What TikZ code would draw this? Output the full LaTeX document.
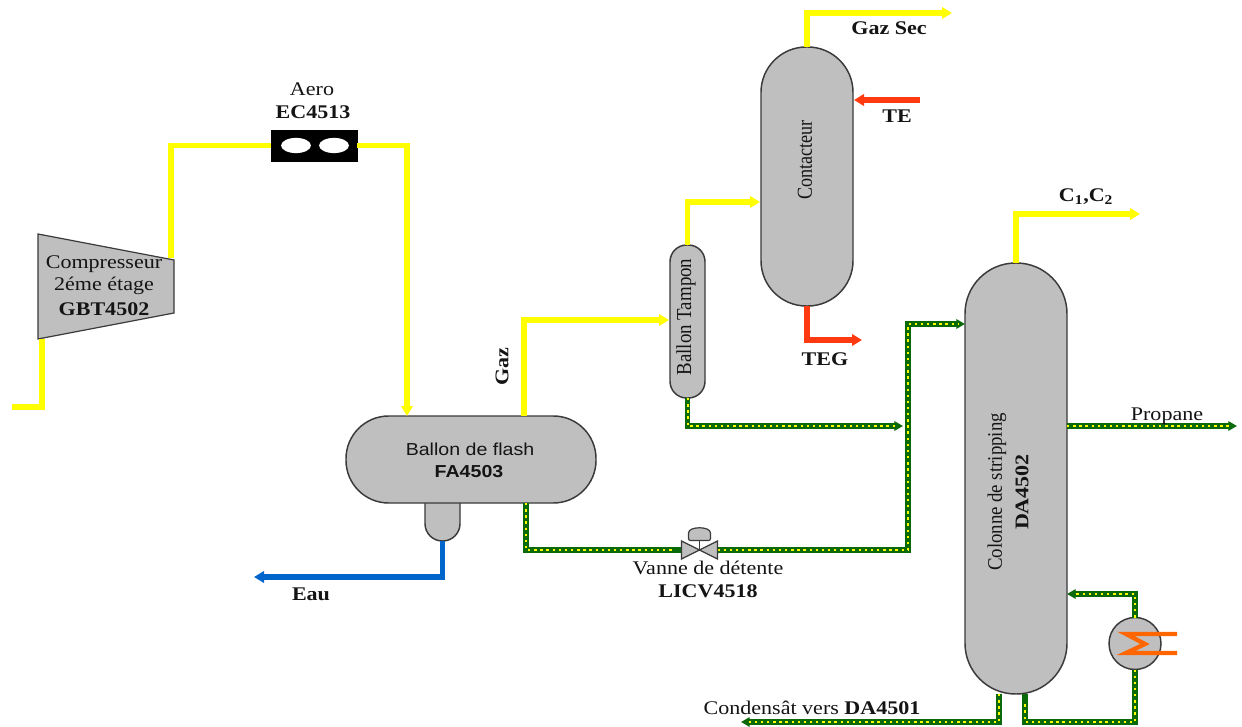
\documentclass[tikz,border=0pt]{standalone}
\usepackage{fontspec}
\setmainfont[FakeStretch=1.14]{Liberation Serif}
\newfontfamily\narrowfont[FakeStretch=0.85]{Liberation Serif}
\newfontfamily\midfont[FakeStretch=0.885]{Liberation Serif}
\newfontfamily\stripfont[FakeStretch=0.91]{Liberation Serif}
\newfontfamily\flashfont[FakeStretch=1.13]{Liberation Sans}
\usetikzlibrary{arrows.meta}
\definecolor{vesselgrey}{HTML}{BFBFBF}
\definecolor{vesselline}{HTML}{3A3A3A}
\definecolor{pipeyellow}{HTML}{FFFF00}
\definecolor{pipegreen}{HTML}{0A6A0A}
\definecolor{pipeblue}{HTML}{0066CC}
\definecolor{pipered}{HTML}{FF3A10}
\definecolor{pipeorange}{HTML}{FF6600}
\definecolor{textdark}{HTML}{141414}
\tikzset{
  vessel/.style={draw=vesselline,fill=vesselgrey,line width=1.1pt,inner sep=0pt,outer sep=0pt},
  lab/.style={text=textdark,font=\fontsize{14.5}{16}\selectfont,inner sep=0pt,align=center},
  blab/.style={lab,font=\fontsize{14.5}{16}\selectfont\bfseries},
  tipY/.style={-{Triangle[length=7.5pt,width=8.5pt]}},
  tipT/.style={-{Triangle[length=6.5pt,width=7pt]}},
  yellowpipe/.style={draw=pipeyellow,line width=3.8pt},
  redpipe/.style={draw=pipered,line width=3.8pt},
  bluepipe/.style={draw=pipeblue,line width=3.8pt},
  greenpipe/.style={draw=pipegreen,line width=4.2pt,
    postaction={draw=pipeyellow,-,line width=1.5pt,dash pattern=on 1.8pt off 2.8pt,shorten >=5pt}},
  greenline/.style={greenpipe,line join=miter},
}
\begin{document}
\begin{tikzpicture}[x=0.75pt,y=-0.75pt]
\useasboundingbox[fill=white] (0,0) rectangle (1242,727);

% --- equipment ---
\node[vessel,minimum width=35*0.75pt,minimum height=71*0.75pt,rounded corners=13pt] (boot) at (442.5,505.5) {};
\node[vessel,minimum width=250*0.75pt,minimum height=87*0.75pt,rounded corners=32pt] (flash) at (471,459.5) {};
\node[vessel,minimum width=35*0.75pt,minimum height=153*0.75pt,rounded corners=12.5pt] (tampon) at (687.5,321.5) {};
\node[vessel,minimum width=92*0.75pt,minimum height=259*0.75pt,rounded corners=34pt] (contact) at (807,176.5) {};
\node[vessel,minimum width=102*0.75pt,minimum height=431*0.75pt,rounded corners=38pt] (colonne) at (1016,478.5) {};
\node[vessel,circle,minimum size=52*0.75pt] (reb) at (1135,643.5) {};
\node[draw=black,fill=black,minimum width=86*0.75pt,minimum height=31*0.75pt,inner sep=0pt,outer sep=0pt] (aero) at (314,145.5) {};
\fill[white] (296,145.5) ellipse (11.2pt and 5.7pt);
\fill[white] (334,145.5) ellipse (11.2pt and 5.7pt);
\coordinate (compOut) at (171,258);
\coordinate (compIn) at (42,339);
\draw[vessel,line width=0.9pt,line join=miter] (38,234) -- (174,260) -- (174,313) -- (38,339) -- cycle;

% --- ports and free ends ---
\coordinate (feed) at (12,407);
\coordinate (flashIn) at (407,416);
\coordinate (flashGaz) at (524,416);
\coordinate (flashLiq) at (526,503);
\coordinate (tamponIn) at (669,320);
\coordinate (contactIn) at (760,202);
\coordinate (gazEnd) at (952,13);
\coordinate (teStart) at (920,100);
\coordinate (teEnd) at (854,100);
\coordinate (tegEnd) at (862,340);
\coordinate (c1End) at (1140,214);
\coordinate (tamponEnd) at (903,426);
\coordinate (colBend) at (908,324);
\coordinate (colIn) at (965,324);
\coordinate (propFrom) at (1067,426);
\coordinate (propEnd) at (1237,426);
\coordinate (rebIn) at (1067,594);
\coordinate (botA) at (999,694);
\coordinate (botB) at (1025,694);
\coordinate (rebLow) at (1135,722);
\coordinate (condEnd) at (741,722);

% --- yellow lines ---
\draw[yellowpipe,line join=miter] (feed) -| (compIn);
\draw[yellowpipe,line join=miter] (compOut) |- (aero.west);
\draw[yellowpipe,tipY,line join=miter] (aero.east) -| (flashIn);
\draw[yellowpipe,tipY,line join=miter] (flashGaz) |- (tamponIn);
\draw[yellowpipe,tipY,line join=miter] (tampon.north) |- (contactIn);
\draw[yellowpipe,tipY,line join=miter] (contact.north) |- (gazEnd);
\draw[yellowpipe,tipY,line join=miter] (colonne.north) |- (c1End);

% --- red and blue lines ---
\draw[redpipe,tipY] (teStart) -- (teEnd);
\draw[redpipe,tipY,line join=miter] (contact.south) |- (tegEnd);
\draw[bluepipe,tipY,line join=miter] (boot.south) |- (254,577);

% --- green lines ---
\node[minimum width=36*0.75pt,minimum height=18*0.75pt,inner sep=0pt,outer sep=0pt] (valve) at (699.5,550) {};
\draw[greenline,tipT] (tampon.south) |- (tamponEnd);
\draw[greenline] (flashLiq) |- (valve.west);
\draw[greenline,tipT] (valve.east) -| (colBend) -- (colIn);
\draw[greenline,tipT] (propFrom) -- (propEnd);
\draw[greenline,tipT] (reb.north) |- (rebIn);
\draw[greenline] (reb.south) -- (rebLow) -| (botB);
\draw[greenline,tipT] (botA) |- (condEnd);

% --- valve ---
\draw[vessel,line width=0.9pt,line join=miter] (valve.north west) -- (valve.south east) -- (valve.north east) -- (valve.south west) -- cycle;
\draw[vesselline,line width=1.2pt] (699.5,540) -- (valve.center);
\draw[vessel,line width=0.9pt,rounded corners=1.5pt] (688.5,540.5) -- (688.5,535) .. controls (688.5,526) and (710.5,526) .. (710.5,535) -- (710.5,540.5) -- cycle;

% --- reboiler coil ---
\draw[pipeorange,line width=3.2pt,line join=miter] (1177,634) -- (1126,634) -- (1145,644) -- (1126,653) -- (1177,653);

% --- labels ---
\node[lab] (tAero) at (312,89) {Aero};
\node[blab] (tEC) at (313,112) {EC4513};
\node[lab] (tComp) at (104,264) {Compresseur};
\node[lab] (tEtage) at (104,286) {2éme étage};
\node[blab] (tGBT) at (104,309) {GBT4502};
\node[blab,rotate=90] (tGaz) at (502,367) {Gaz};
\node[lab,font=\fontsize{13}{15}\selectfont\flashfont] (tFlash) at (470,449) {Ballon de flash};
\node[lab,font=\fontsize{13}{15}\selectfont\flashfont\bfseries] (tFA) at (469,472) {FA4503};
\node[blab] (tEau) at (311,594) {Eau};
\node[lab] (tVanne) at (708,568) {Vanne de détente};
\node[blab] (tLICV) at (708,591) {LICV4518};
\node[lab,rotate=90,font=\fontsize{16}{18}\selectfont\midfont] (tTampon) at (686,317) {Ballon Tampon};
\node[lab,rotate=90,font=\fontsize{16}{18}\selectfont\narrowfont] (tContact) at (805,160) {Contacteur};
\node[blab] (tGazSec) at (889,28) {Gaz Sec};
\node[blab] (tTE) at (897,116) {TE};
\node[blab] (tTEG) at (825,359) {TEG};
\node[blab] (tC) at (1086,197) {C\textsubscript{1},C\textsubscript{2}};
\node[lab] (tProp) at (1167,416) {Propane};
\node[lab,rotate=90,font=\fontsize{15.5}{18}\selectfont\stripfont] (tStrip) at (997,492) {Colonne de stripping};
\node[blab,rotate=90] (tDA) at (1022,492) {DA4502};
\node[lab] (tCond) at (812,708) {Condensât vers \textbf{DA4501}};
\end{tikzpicture}
\end{document}
